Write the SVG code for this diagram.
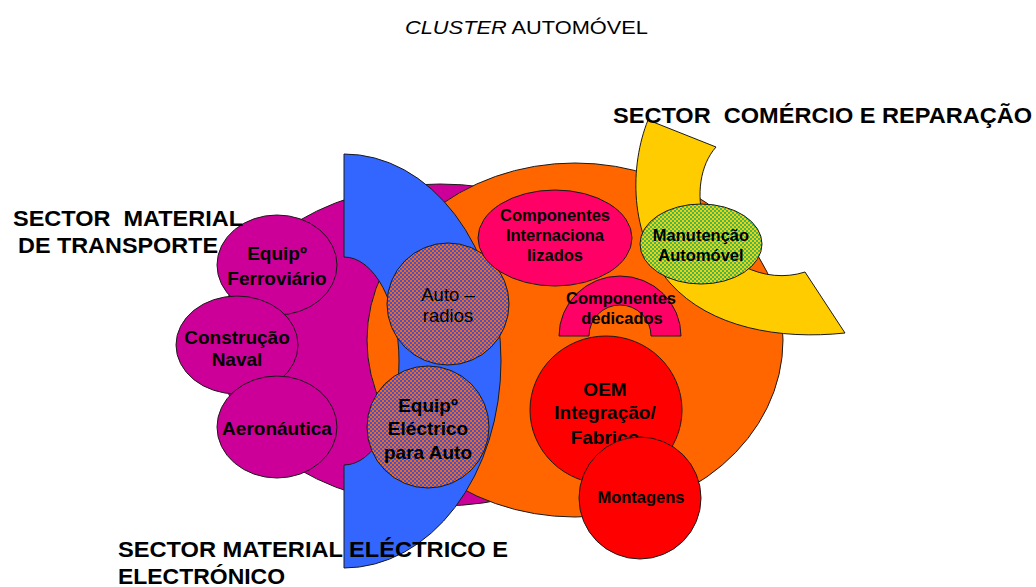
<svg xmlns="http://www.w3.org/2000/svg" width="1036" height="587" viewBox="0 0 1036 587">
<defs>
<pattern id="chkBO" width="4" height="4" patternUnits="userSpaceOnUse"><rect width="4" height="4" fill="#FF6600"/><rect width="2" height="2" fill="#3355EE"/><rect x="2" y="2" width="2" height="2" fill="#3355EE"/></pattern>
<pattern id="chkGY" width="4" height="4" patternUnits="userSpaceOnUse"><rect width="4" height="4" fill="#FFCC00"/><rect width="2" height="2" fill="#33BB66"/><rect x="2" y="2" width="2" height="2" fill="#33BB66"/></pattern>
<style>
.s{stroke:#1a1a1a;stroke-width:1}
.mag{fill:#CC0099}
.org{fill:#FF6600}
.blu{fill:#3366FF}
.pnk{fill:#FF0066}
.red{fill:#FF0000}
.yel{fill:#FFCC00}
text{font-family:"Liberation Sans",Arial,sans-serif;fill:#000}
.lab{font-weight:bold;font-size:22px}
.n19{font-weight:bold;font-size:19px;text-anchor:middle}
.n16{font-weight:bold;font-size:16.5px;text-anchor:middle}
.r18{font-size:18.5px;text-anchor:middle}
</style>
</defs>
<rect width="1036" height="587" fill="#fff"/>

<g id="sector-transporte-area"><ellipse class="mag s" cx="440" cy="345" rx="222" ry="161"/></g>
<g id="cluster-core"><ellipse class="org s" cx="575" cy="340" rx="208" ry="177"/></g>
<g id="sector-electrico-arc"><path class="blu s" d="M344 154 A157 207 0 0 1 344 568 L344 465 A55 104 0 0 0 344 257 Z"/></g>
<g id="sector-comercio-arc"><path class="yel s" d="M648 120 C630 165 628 235 670 283 C710 328 780 340 845 333 L805 272 C765 285 718 262 704 222 C696 195 700 165 716 147 Z"/></g>

<g id="equip-ferroviario"><ellipse class="mag s" cx="277" cy="265" rx="60" ry="50"/><text class="n19" x="277" y="260">Equipº</text><text class="n19" x="277" y="285">Ferroviário</text></g>
<g id="construcao-naval"><ellipse class="mag s" cx="237" cy="345" rx="61" ry="49"/><text class="n19" x="237" y="344">Construção</text><text class="n19" x="237" y="366">Naval</text></g>
<g id="aeronautica"><ellipse class="mag s" cx="277" cy="427" rx="60" ry="51"/><text class="n19" x="277" y="435">Aeronáutica</text></g>

<g id="auto-radios"><circle cx="448" cy="304" r="61" fill="url(#chkBO)" class="s"/><text class="r18" x="448" y="301">Auto –</text><text class="r18" x="448" y="322">radios</text></g>
<g id="equip-electrico"><circle cx="428" cy="427" r="61" fill="url(#chkBO)" class="s"/><text class="n19" x="428" y="412">Equipº</text><text class="n19" x="428" y="435">Eléctrico</text><text class="n19" x="428" y="459">para Auto</text></g>

<g id="componentes-internacionalizados"><ellipse class="pnk s" cx="555" cy="238" rx="77" ry="48"/><text class="n16" x="555" y="221">Componentes</text><text class="n16" x="555" y="241">Internaciona</text><text class="n16" x="555" y="261">lizados</text></g>
<g id="componentes-dedicados"><path class="pnk s" d="M559 336 A61 60 0 0 1 681 336 L651 336 A31 31 0 0 0 589 336 Z"/><text class="n16" x="621" y="304">Componentes</text><text class="n16" x="622" y="324">dedicados</text></g>

<g id="manutencao"><ellipse cx="701" cy="244" rx="61" ry="40" fill="url(#chkGY)" class="s"/><text class="n16" x="701" y="241">Manutenção</text><text class="n16" x="701" y="261">Automóvel</text></g>

<g id="oem"><ellipse class="red s" cx="606" cy="410" rx="76" ry="74"/><text class="n19" x="605" y="396">OEM</text><text class="n19" x="605" y="419">Integração/</text><text class="n19" x="605" y="444">Fabrico</text></g>
<g id="montagens"><circle class="red s" cx="640" cy="498" r="61"/><text class="n16" x="641" y="503">Montagens</text></g>

<g id="connectors"></g>

<g id="labels">
<text x="405" y="34" font-size="17.5" textLength="243" lengthAdjust="spacingAndGlyphs"><tspan font-style="italic">CLUSTER</tspan> AUTOMÓVEL</text>
<text class="lab" x="13" y="226" xml:space="preserve" textLength="230" lengthAdjust="spacingAndGlyphs">SECTOR  MATERIAL</text>
<text class="lab" x="18" y="253" textLength="200" lengthAdjust="spacingAndGlyphs">DE TRANSPORTE</text>
<text class="lab" x="613" y="123" xml:space="preserve" textLength="419" lengthAdjust="spacingAndGlyphs">SECTOR  COMÉRCIO E REPARAÇÃO</text>
<text class="lab" x="118" y="557" textLength="390" lengthAdjust="spacingAndGlyphs">SECTOR MATERIAL ELÉCTRICO E</text>
<text class="lab" x="118" y="584" textLength="167" lengthAdjust="spacingAndGlyphs">ELECTRÓNICO</text>
</g>
</svg>
